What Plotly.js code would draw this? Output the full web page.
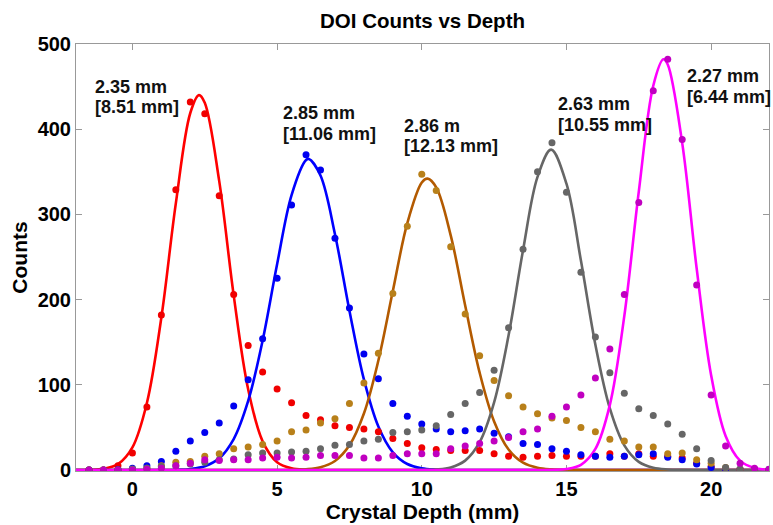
<!DOCTYPE html>
<html><head><meta charset="utf-8">
<script src="https://cdn.plot.ly/plotly-3.0.1.min.js"></script>
<style>html,body{margin:0;padding:0;background:#fff}#chart{width:773px;height:525px}</style>
</head><body><div id="chart"></div><script>
// Measured depths (mm) of the DOI histogram points
const depth = [-1.5,-1,-0.5,0,0.5,1,1.5,2,2.5,3,3.5,4,4.5,5,5.5,6,6.5,7,7.5,8,8.5,9,9.5,10,10.5,11,11.5,12,12.5,13,13.5,14,14.5,15,15.5,16,16.5,17,17.5,18,18.5,19,19.5,20,20.5,21,21.5,22];
const redCounts = [0,0,5,20,74,182,329,432,418,322,206,146,115,95,79,64,59,52,50,48,45,37,31,26,24,23,23,23,19,16,15,16,17,16,16,16,19,16,19,16,16,14,8,4,1,0.5,0,0];
const blueCounts = [0,0,0.5,2,5,10,22,34,44,55,75,106,154,225,311,370,352,272,190,136,107,78,63,54,48,45,46,48,43,39,31,30,25,22,18,16,15,16,18,19,15,12,7,3,1,1,0.5,0.5];
const brownCounts = [0,0,0,1,2,5,9,10,16,19,25,27,30,34,45,47,55,60,78,102,137,207,286,347,328,262,183,134,105,87,74,66,61,58,50,45,36,34,27,27,19,20,12,8,3,1,1,0.5];
const grayCounts = [0,0,0,1,2,4,5,7,9,12,13,18,20,20,21,22,25,29,30,34,36,44,45,47,52,65,78,91,117,167,259,350,384,326,232,156,114,90,72,64,54,42,25,11,3,1,1,0.5];
const magentaCounts = [0,0,0,0,1,2,5,8,12,11,12,12,14,15,14,15,17,17,17,14,14,17,19,19,19,25,28,31,34,38,45,48,63,74,88,108,142,206,314,445,482,388,217,88,28,8,2,1];

// Gaussian fit curves
const fitDepth = [-2,-1.5,-1,-0.5,0,0.5,1,1.5,2,2.5,3,3.5,4,4.5,5,5.5,6,6.5,7,7.5,8,8.5,9,9.5,10,10.5,11,11.5,12,12.5,13,13.5,14,14.5,15,15.5,16,16.5,17,17.5,18,18.5,19,19.5,20,20.5,21,21.5,22];
const redFit = [0,0.2,1.4,6.8,26.5,78.6,179,313,419,431,339,205,94.7,33.6,9.1,1.9,0.3,0,0,0,0,0,0,0,0,0,0,0,0,0,0,0,0,0,0,0,0,0,0,0,0,0,0,0,0,0,0,0,0];
const blueFit = [0,0,0,0,0,0,0,0.3,1.2,4.4,13.7,36.3,81,152,241.5,322.7,363.8,345.6,276.8,187,106.3,51,20.7,7,2,0.5,0,0,0,0,0,0,0,0,0,0,0,0,0,0,0,0,0,0,0,0,0,0,0];
const brownFit = [0,0,0,0,0,0,0,0,0,0,0,0,0,0,0,0.2,0.9,3.3,10.6,29,66.3,128.5,210,289.7,337.4,331.7,275.4,193,114.2,57,24,8.6,2.6,0.7,0.15,0,0,0,0,0,0,0,0,0,0,0,0,0,0];
const grayFit = [0,0,0,0,0,0,0,0,0,0,0,0,0,0,0,0,0,0,0,0,0,0,0,0,0.1,0.7,3,11,32.6,79.3,158,258,344,375.9,336,245.8,147,72.2,28.9,9.5,2.6,0.6,0.1,0,0,0,0,0,0];
const magentaFit = [0,0,0,0,0,0,0,0,0,0,0,0,0,0,0,0,0,0,0,0,0,0,0,0,0,0,0,0,0,0,0,0,0,0.2,1.15,6.1,24.7,76.4,180.8,326.8,451,476,384,236.6,111.3,40,11,2.3,0.4];
// fit peak (centre, height)
const fitPeakX = [2.3, 6.1, 10.2, 14.47, 18.35];
const fitPeakY = [440, 365, 342, 376, 482];

const fwhmLabels = ['2.35 mm','2.85 mm','2.86 m','2.63 mm','2.27 mm'];
const fwtmLabels = ['[8.51 mm]','[11.06 mm]','[12.13 mm]','[10.55 mm]','[6.44 mm]'];

const countsList = [redCounts, blueCounts, brownCounts, grayCounts, magentaCounts];
const fitList = [redFit, blueFit, brownFit, grayFit, magentaFit];
const dotColors = ['#f00000','#0000f0','#b8801a','#666666','#c000c0'];
const lineColors = ['#ff0000','#0000ff','#b35a00','#666666','#ff00ff'];

// label placement (data coords of the left edge / line centres)
const labelX = [-1.35, 5.12, 9.33, 14.65, 19.08];
const labelY1 = [449.5, 419, 403.8, 429.6, 462.4];
const labelY2 = [426, 394.4, 380.3, 405.5, 437.8];

const font = 'Liberation Sans, Arial, Helvetica, sans-serif';
const traces = [];
fitList.forEach((f, i) => {
  const xs = [], ys = [];
  let inserted = false;
  fitDepth.forEach((d, k) => {
    if (!inserted && d > fitPeakX[i]) { xs.push(fitPeakX[i]); ys.push(fitPeakY[i]); inserted = true; }
    if (Math.abs(d - fitPeakX[i]) > 0.05) { xs.push(d); ys.push(f[k]); }
  });
  traces.push({
    x: xs, y: ys, type: 'scatter', mode: 'lines',
    line: {color: lineColors[i], width: 2.6, shape: 'spline', smoothing: 1},
    hoverinfo: 'skip', showlegend: false
  });
});
countsList.forEach((c, i) => traces.push({
  x: depth, y: c, type: 'scatter', mode: 'markers',
  marker: {color: dotColors[i], size: 7},
  showlegend: false
}));

const annotations = [];
fwhmLabels.forEach((t, i) => {
  [[t, labelY1[i]], [fwtmLabels[i], labelY2[i]]].forEach(([txt, yy]) => annotations.push({
    x: labelX[i], y: yy, xref: 'x', yref: 'y',
    xanchor: 'left', yanchor: 'middle', align: 'left', showarrow: false,
    text: txt,
    font: {family: font, size: 18, color: '#111', weight: 'bold'}
  }));
});

const axisCommon = {
  showline: true, linecolor: '#999', linewidth: 1, mirror: 'ticks',
  ticks: 'inside', ticklen: 6, tickcolor: '#999',
  showgrid: false, zeroline: false, layer: 'below traces',
  tickfont: {family: font, size: 20, color: '#000', weight: 'bold'}
};

const layout = {
  width: 773, height: 525,
  margin: {l: 76, r: 4, t: 44, b: 54},
  paper_bgcolor: '#fff', plot_bgcolor: '#fff',
  title: {text: 'DOI Counts vs Depth', x: 0.5, xref: 'paper', y: 0.961, yref: 'container', yanchor: 'middle',
          font: {family: font, size: 20.5, color: '#000', weight: 'bold'}},
  xaxis: Object.assign({}, axisCommon, {
    range: [-1.95, 22], tickvals: [0, 5, 10, 15, 20],
    title: {text: 'Crystal Depth (mm)', standoff: 1, font: {family: font, size: 21, color: '#000', weight: 'bold'}}
  }),
  yaxis: Object.assign({}, axisCommon, {
    range: [-1.2, 500], tickvals: [0, 100, 200, 300, 400, 500],
    title: {text: 'Counts', standoff: 4, font: {family: font, size: 21, color: '#000', weight: 'bold'}}
  }),
  annotations: annotations
};

Plotly.newPlot('chart', traces, layout, {displayModeBar: false, staticPlot: true});
</script></body></html>
